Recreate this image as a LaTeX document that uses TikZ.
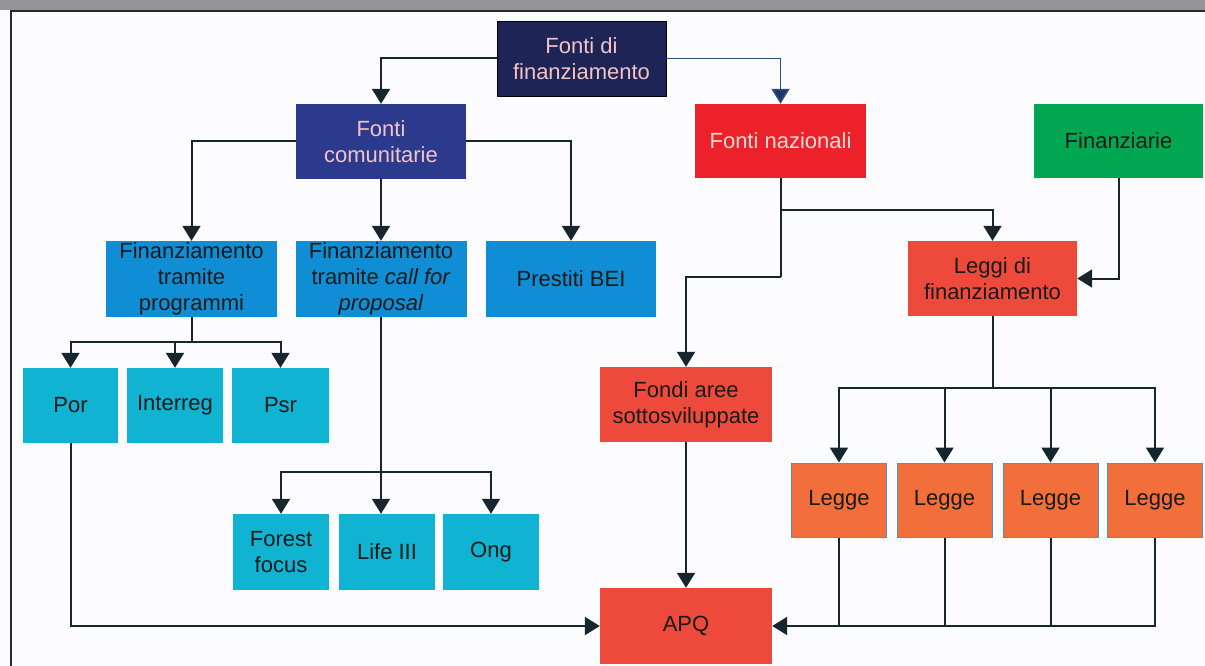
\documentclass[tikz,border=0pt]{standalone}
\usepackage{fontspec}
\setmainfont{Liberation Sans}
\usetikzlibrary{arrows.meta}

\definecolor{pagebg}{HTML}{FCFCFE}
\definecolor{topbar}{HTML}{949599}
\definecolor{framedark}{HTML}{2A2A2C}
\definecolor{navy}{HTML}{1F2456}
\definecolor{royal}{HTML}{2C3A8E}
\definecolor{midblue}{HTML}{0F8ED6}
\definecolor{cyanbox}{HTML}{10B3D2}
\definecolor{redbright}{HTML}{EC2129}
\definecolor{redsoft}{HTML}{EE4A3C}
\definecolor{orangebox}{HTML}{F26E3A}
\definecolor{greenbox}{HTML}{00A651}
\definecolor{leggeedge}{HTML}{3D9AD6}
\definecolor{pinktext}{HTML}{F2C4C6}
\definecolor{palepink}{HTML}{F8DCD4}
\definecolor{darktext}{HTML}{1A1A1A}
\definecolor{linkdark}{HTML}{17262C}
\definecolor{linkblue}{HTML}{2C4F82}
\definecolor{tipblue}{HTML}{1D3561}

\begin{document}
\begin{tikzpicture}[x=1pt,y=-1pt,
  box/.style={rectangle, inner sep=0pt, align=center,
    font=\fontsize{22}{26}\selectfont, text=darktext},
  link/.style={draw=linkdark, line width=2pt,
    -{Triangle[width=18pt,length=15pt]}},
  bluelink/.style={draw=linkblue, line width=1.6pt,
    -{Triangle[width=18pt,length=15pt,fill=tipblue]}},
  plainlink/.style={draw=linkdark, line width=2pt},
  leggebox/.style={box, fill=orangebox, draw=leggeedge, line width=1pt,
    minimum width=95pt, minimum height=74pt}
]
% page, top bar and frame
\fill[pagebg] (0,0) rectangle (1205,666);
\useasboundingbox (0,0) rectangle (1205,666);
\fill[topbar] (0,0) rectangle (1205,10);
\draw[framedark, line width=2.2pt] (11,666) -- (11,11) -- (1205,11);

% boxes
\node[box, fill=navy, draw=black, line width=0.8pt, text=pinktext,
  minimum width=169pt, minimum height=75pt] (top) at (581.5,58.5)
  {Fonti di\\finanziamento};
\node[box, fill=royal, text=pinktext,
  minimum width=170pt, minimum height=75pt] (com) at (381,141.5)
  {Fonti\\comunitarie};
\node[box, fill=redbright, text=palepink,
  minimum width=171pt, minimum height=74pt] (naz) at (780.5,141)
  {Fonti nazionali};
\node[box, fill=greenbox,
  minimum width=169pt, minimum height=74pt] (fin) at (1118.5,141)
  {Finanziarie};

\node[box, fill=midblue, minimum width=171pt, minimum height=76pt]
  (prog) at (191.5,279) {Finanziamento\\tramite\\programmi};
\node[box, fill=midblue, minimum width=171pt, minimum height=76pt]
  (call) at (381,279) {Finanziamento\\tramite \textit{call for}\\\textit{proposal}};
\node[box, fill=midblue, minimum width=170pt, minimum height=76pt]
  (bei) at (571,279) {Prestiti BEI};
\node[box, fill=redsoft, minimum width=169pt, minimum height=75pt]
  (leggi) at (992.5,278.5) {Leggi di\\finanziamento};

\node[box, fill=cyanbox, minimum width=95pt, minimum height=75pt]
  (por) at (70.5,405.5) {Por};
\node[box, fill=cyanbox, minimum width=96pt, minimum height=75pt]
  (interreg) at (175,405.5) {Interreg};
\node[box, fill=cyanbox, minimum width=97pt, minimum height=75pt]
  (psr) at (280.5,405.5) {Psr};
\node[box, fill=redsoft, minimum width=172pt, minimum height=75pt]
  (fondi) at (686,404.5) {Fondi aree\\sottosviluppate};

\node[leggebox] (l1) at (839,500) {Legge};
\node[leggebox] (l2) at (944.5,500) {Legge};
\node[leggebox] (l3) at (1050.5,500) {Legge};
\node[leggebox] (l4) at (1155,500) {Legge};

\node[box, fill=cyanbox, minimum width=96pt, minimum height=76pt]
  (forest) at (281,552) {Forest\\focus};
\node[box, fill=cyanbox, minimum width=96pt, minimum height=76pt]
  (life) at (387,552) {Life III};
\node[box, fill=cyanbox, minimum width=96pt, minimum height=76pt]
  (ong) at (491,552) {Ong};

\node[box, fill=redsoft, minimum width=172pt, minimum height=76pt]
  (apq) at (686,626) {APQ};

% branch points
\coordinate (nb) at (naz.south |- 0,210);
\coordinate (nc) at (naz.south |- 0,277);
\coordinate (pb) at (prog.south |- 0,342);
\coordinate (cb) at (call.south |- 0,472);
\coordinate (lb) at (leggi.south |- 0,388);

% connectors from the top level
\draw[link] (top.west) -| (com.north);
\draw[bluelink] (top.east) -| (naz.north);

% community sources
\draw[link] (com.west) -| (prog.north);
\draw[link] (com.south) -- (com.south |- call.north);
\draw[link] (com.east) -| (bei.north);

% programmes
\draw[plainlink] (prog.south) -- (pb);
\draw[link] (pb) -| (por.north);
\draw[link] (pb) -| (psr.north);
\draw[link] (interreg.north |- pb) -- (interreg.north);

% call for proposal
\draw[plainlink] (call.south) -- (cb);
\draw[link] (cb) -| (forest.north);
\draw[link] (cb) -| (ong.north);
\draw[link] (cb) -- (call.south |- life.north);

% national sources
\draw[plainlink] (naz.south) -- (nc);
\draw[link] (nb) -| (leggi.north);
\draw[link] (nc) -| (fondi.north);
\draw[link] (fin.south) |- (leggi.east);

% laws
\draw[plainlink] (leggi.south) -- (lb);
\draw[link] (lb) -| (l1.north);
\draw[link] (lb) -| (l4.north);
\draw[link] (l2.north |- lb) -- (l2.north);
\draw[link] (l3.north |- lb) -- (l3.north);

% into APQ
\draw[link] (por.south) |- (apq.west);
\draw[link] (fondi.south) -- (apq.north);
\draw[link] (l4.south) |- (apq.east);
\draw[plainlink] (l1.south) -- (l1.south |- apq.east);
\draw[plainlink] (l2.south) -- (l2.south |- apq.east);
\draw[plainlink] (l3.south) -- (l3.south |- apq.east);
\end{tikzpicture}
\end{document}
